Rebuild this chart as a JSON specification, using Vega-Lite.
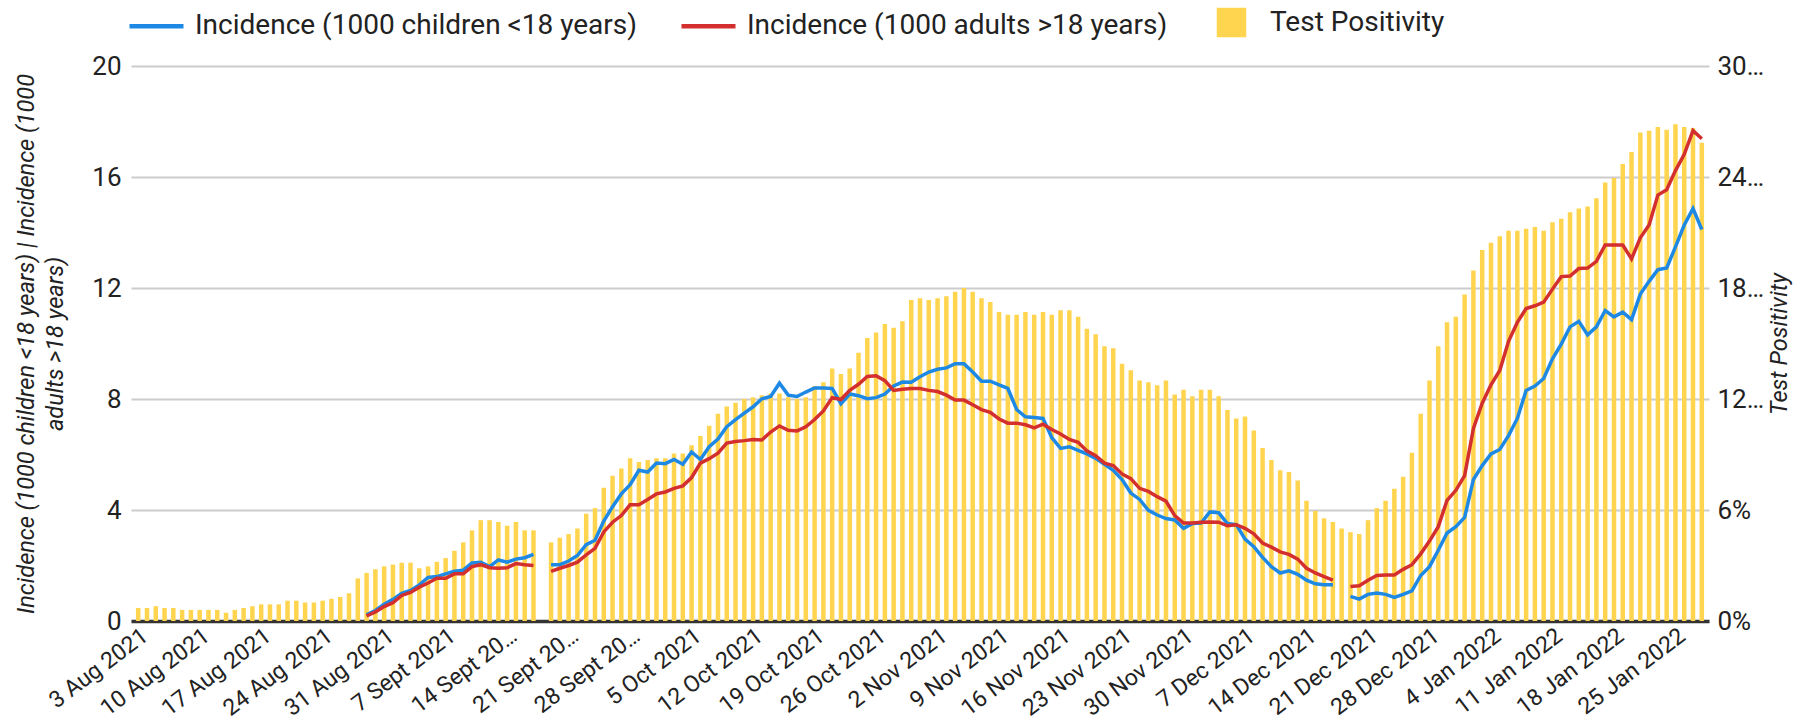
{
  "$schema": "https://vega.github.io/schema/vega-lite/v6.json",
  "width": 1578,
  "height": 555,
  "autosize": {"type": "none"},
  "padding": {"left": 131, "top": 66, "right": 104, "bottom": 99},
  "background": "white",
  "config": {
    "font": "Roboto",
    "view": {"stroke": null},
    "axis": {
      "labelFont": "Roboto", "labelColor": "#222222", "labelFontSize": 26,
      "titleFont": "Roboto", "titleFontSize": 23.5, "titleFontWeight": "normal", "titleFontStyle": "italic", "titleColor": "#222222",
      "ticks": false, "domain": false, "gridColor": "#cccccc", "gridWidth": 2
    }
  },
  "data": {"values": [
    {"date":"2021-08-03","p":0.7},{"date":"2021-08-04","p":0.7},{"date":"2021-08-05","p":0.8},{"date":"2021-08-06","p":0.7},
    {"date":"2021-08-07","p":0.7},{"date":"2021-08-08","p":0.6},{"date":"2021-08-09","p":0.6},{"date":"2021-08-10","p":0.6},
    {"date":"2021-08-11","p":0.6},{"date":"2021-08-12","p":0.6},{"date":"2021-08-13","p":0.45},{"date":"2021-08-14","p":0.6},
    {"date":"2021-08-15","p":0.7},{"date":"2021-08-16","p":0.8},{"date":"2021-08-17","p":0.9},{"date":"2021-08-18","p":0.9},
    {"date":"2021-08-19","p":0.9},{"date":"2021-08-20","p":1.1},{"date":"2021-08-21","p":1.1},{"date":"2021-08-22","p":1.0},
    {"date":"2021-08-23","p":1.0},{"date":"2021-08-24","p":1.1},{"date":"2021-08-25","p":1.2},{"date":"2021-08-26","p":1.3},
    {"date":"2021-08-27","p":1.5},{"date":"2021-08-28","p":2.3},
    {"date":"2021-08-29","p":2.6,"b":0.22,"r":0.18},{"date":"2021-08-30","p":2.8,"b":0.38,"r":0.33},
    {"date":"2021-08-31","p":2.95,"b":0.6,"r":0.52},{"date":"2021-09-01","p":3.05,"b":0.78,"r":0.66},
    {"date":"2021-09-02","p":3.15,"b":1.0,"r":0.92},{"date":"2021-09-03","p":3.15,"b":1.1,"r":1.03},
    {"date":"2021-09-04","p":2.85,"b":1.3,"r":1.22},{"date":"2021-09-05","p":2.95,"b":1.57,"r":1.37},
    {"date":"2021-09-06","p":3.2,"b":1.6,"r":1.54},{"date":"2021-09-07","p":3.4,"b":1.7,"r":1.54},
    {"date":"2021-09-08","p":3.8,"b":1.79,"r":1.7},{"date":"2021-09-09","p":4.25,"b":1.83,"r":1.7},
    {"date":"2021-09-10","p":4.9,"b":2.09,"r":1.96},{"date":"2021-09-11","p":5.45,"b":2.12,"r":2.03},
    {"date":"2021-09-12","p":5.45,"b":1.96,"r":1.92},{"date":"2021-09-13","p":5.35,"b":2.2,"r":1.9},
    {"date":"2021-09-14","p":5.15,"b":2.12,"r":1.92},{"date":"2021-09-15","p":5.35,"b":2.23,"r":2.07},
    {"date":"2021-09-16","p":4.9,"b":2.28,"r":2.03},{"date":"2021-09-17","p":4.9,"b":2.4,"r":2.0},
    {"date":"2021-09-18","p":null,"b":null,"r":null},
    {"date":"2021-09-19","p":4.25,"b":2.03,"r":1.79},{"date":"2021-09-20","p":4.5,"b":2.03,"r":1.9},
    {"date":"2021-09-21","p":4.7,"b":2.16,"r":2.0},{"date":"2021-09-22","p":5.0,"b":2.36,"r":2.12},
    {"date":"2021-09-23","p":5.8,"b":2.75,"r":2.38},{"date":"2021-09-24","p":6.1,"b":2.91,"r":2.62},
    {"date":"2021-09-25","p":7.2,"b":3.6,"r":3.21},{"date":"2021-09-26","p":7.85,"b":4.12,"r":3.56},
    {"date":"2021-09-27","p":8.25,"b":4.58,"r":3.8},{"date":"2021-09-28","p":8.8,"b":4.91,"r":4.19},
    {"date":"2021-09-29","p":8.6,"b":5.43,"r":4.19},{"date":"2021-09-30","p":8.7,"b":5.37,"r":4.38},
    {"date":"2021-10-01","p":8.8,"b":5.69,"r":4.58},{"date":"2021-10-02","p":8.8,"b":5.67,"r":4.65},
    {"date":"2021-10-03","p":9.05,"b":5.82,"r":4.78},{"date":"2021-10-04","p":9.05,"b":5.65,"r":4.87},
    {"date":"2021-10-05","p":9.5,"b":6.09,"r":5.17},{"date":"2021-10-06","p":10.0,"b":5.82,"r":5.69},
    {"date":"2021-10-07","p":10.55,"b":6.28,"r":5.85},{"date":"2021-10-08","p":11.2,"b":6.56,"r":6.05},
    {"date":"2021-10-09","p":11.6,"b":7.0,"r":6.41},{"date":"2021-10-10","p":11.8,"b":7.26,"r":6.47},
    {"date":"2021-10-11","p":12.0,"b":7.49,"r":6.5},{"date":"2021-10-12","p":12.1,"b":7.72,"r":6.54},
    {"date":"2021-10-13","p":12.2,"b":8.01,"r":6.52},{"date":"2021-10-14","p":12.3,"b":8.09,"r":6.81},
    {"date":"2021-10-15","p":12.3,"b":8.57,"r":7.03},{"date":"2021-10-16","p":12.1,"b":8.14,"r":6.87},
    {"date":"2021-10-17","p":12.0,"b":8.09,"r":6.85},{"date":"2021-10-18","p":12.1,"b":8.25,"r":7.0},
    {"date":"2021-10-19","p":12.7,"b":8.4,"r":7.26},{"date":"2021-10-20","p":12.9,"b":8.4,"r":7.57},
    {"date":"2021-10-21","p":13.65,"b":8.38,"r":8.05},{"date":"2021-10-22","p":13.35,"b":7.83,"r":7.98},
    {"date":"2021-10-23","p":13.65,"b":8.18,"r":8.31},{"date":"2021-10-24","p":14.5,"b":8.12,"r":8.53},
    {"date":"2021-10-25","p":15.3,"b":8.01,"r":8.81},{"date":"2021-10-26","p":15.6,"b":8.05,"r":8.84},
    {"date":"2021-10-27","p":16.05,"b":8.18,"r":8.66},{"date":"2021-10-28","p":15.85,"b":8.47,"r":8.31},
    {"date":"2021-10-29","p":16.2,"b":8.61,"r":8.35},{"date":"2021-10-30","p":17.35,"b":8.6,"r":8.38},
    {"date":"2021-10-31","p":17.45,"b":8.8,"r":8.38},{"date":"2021-11-01","p":17.35,"b":8.97,"r":8.31},
    {"date":"2021-11-02","p":17.45,"b":9.07,"r":8.27},{"date":"2021-11-03","p":17.55,"b":9.12,"r":8.14},
    {"date":"2021-11-04","p":17.8,"b":9.27,"r":7.96},{"date":"2021-11-05","p":18.0,"b":9.27,"r":7.96},
    {"date":"2021-11-06","p":17.8,"b":8.97,"r":7.79},{"date":"2021-11-07","p":17.45,"b":8.64,"r":7.62},
    {"date":"2021-11-08","p":17.25,"b":8.64,"r":7.52},{"date":"2021-11-09","p":16.7,"b":8.51,"r":7.28},
    {"date":"2021-11-10","p":16.55,"b":8.38,"r":7.13},{"date":"2021-11-11","p":16.55,"b":7.62,"r":7.13},
    {"date":"2021-11-12","p":16.7,"b":7.36,"r":7.07},{"date":"2021-11-13","p":16.55,"b":7.33,"r":6.96},
    {"date":"2021-11-14","p":16.7,"b":7.3,"r":7.09},{"date":"2021-11-15","p":16.55,"b":6.61,"r":6.9},
    {"date":"2021-11-16","p":16.8,"b":6.22,"r":6.74},{"date":"2021-11-17","p":16.8,"b":6.28,"r":6.54},
    {"date":"2021-11-18","p":16.45,"b":6.15,"r":6.44},{"date":"2021-11-19","p":15.8,"b":6.02,"r":6.13},
    {"date":"2021-11-20","p":15.5,"b":5.86,"r":5.96},{"date":"2021-11-21","p":14.85,"b":5.65,"r":5.69},
    {"date":"2021-11-22","p":14.75,"b":5.43,"r":5.6},{"date":"2021-11-23","p":13.9,"b":5.1,"r":5.3},
    {"date":"2021-11-24","p":13.55,"b":4.61,"r":5.13},{"date":"2021-11-25","p":13.0,"b":4.38,"r":4.78},
    {"date":"2021-11-26","p":12.9,"b":3.99,"r":4.67},{"date":"2021-11-27","p":12.75,"b":3.82,"r":4.48},
    {"date":"2021-11-28","p":13.0,"b":3.69,"r":4.32},{"date":"2021-11-29","p":12.25,"b":3.64,"r":3.8},
    {"date":"2021-11-30","p":12.5,"b":3.34,"r":3.53},{"date":"2021-12-01","p":12.15,"b":3.51,"r":3.53},
    {"date":"2021-12-02","p":12.5,"b":3.53,"r":3.56},{"date":"2021-12-03","p":12.5,"b":3.93,"r":3.57},
    {"date":"2021-12-04","p":12.15,"b":3.9,"r":3.56},{"date":"2021-12-05","p":11.4,"b":3.51,"r":3.43},
    {"date":"2021-12-06","p":10.95,"b":3.47,"r":3.47},{"date":"2021-12-07","p":11.05,"b":2.95,"r":3.34},
    {"date":"2021-12-08","p":10.3,"b":2.68,"r":3.14},{"date":"2021-12-09","p":9.35,"b":2.29,"r":2.81},
    {"date":"2021-12-10","p":8.7,"b":1.96,"r":2.66},{"date":"2021-12-11","p":8.15,"b":1.73,"r":2.49},
    {"date":"2021-12-12","p":8.05,"b":1.81,"r":2.4},{"date":"2021-12-13","p":7.6,"b":1.68,"r":2.23},
    {"date":"2021-12-14","p":6.5,"b":1.47,"r":1.9},{"date":"2021-12-15","p":5.95,"b":1.34,"r":1.73},
    {"date":"2021-12-16","p":5.55,"b":1.31,"r":1.6},{"date":"2021-12-17","p":5.35,"b":1.31,"r":1.47},
    {"date":"2021-12-18","p":5.0,"b":null,"r":null},
    {"date":"2021-12-19","p":4.8,"b":0.89,"r":1.24},{"date":"2021-12-20","p":4.7,"b":0.79,"r":1.27},
    {"date":"2021-12-21","p":5.45,"b":0.96,"r":1.47},{"date":"2021-12-22","p":6.1,"b":1.01,"r":1.64},
    {"date":"2021-12-23","p":6.5,"b":0.96,"r":1.66},{"date":"2021-12-24","p":7.15,"b":0.85,"r":1.66},
    {"date":"2021-12-25","p":7.8,"b":0.96,"r":1.86},{"date":"2021-12-26","p":9.1,"b":1.09,"r":2.03},
    {"date":"2021-12-27","p":11.2,"b":1.64,"r":2.42},{"date":"2021-12-28","p":13.0,"b":1.96,"r":2.88},
    {"date":"2021-12-29","p":14.85,"b":2.55,"r":3.4},{"date":"2021-12-30","p":16.15,"b":3.17,"r":4.35},
    {"date":"2021-12-31","p":16.45,"b":3.4,"r":4.71},{"date":"2022-01-01","p":17.65,"b":3.73,"r":5.24},
    {"date":"2022-01-02","p":18.95,"b":5.1,"r":6.94},{"date":"2022-01-03","p":20.05,"b":5.6,"r":7.85},
    {"date":"2022-01-04","p":20.45,"b":6.02,"r":8.51},{"date":"2022-01-05","p":20.8,"b":6.18,"r":9.03},
    {"date":"2022-01-06","p":21.1,"b":6.68,"r":10.08},{"date":"2022-01-07","p":21.1,"b":7.3,"r":10.76},
    {"date":"2022-01-08","p":21.2,"b":8.31,"r":11.26},{"date":"2022-01-09","p":21.3,"b":8.47,"r":11.36},
    {"date":"2022-01-10","p":21.1,"b":8.74,"r":11.49},{"date":"2022-01-11","p":21.55,"b":9.45,"r":11.96},
    {"date":"2022-01-12","p":21.75,"b":9.98,"r":12.41},{"date":"2022-01-13","p":22.1,"b":10.6,"r":12.43},
    {"date":"2022-01-14","p":22.3,"b":10.8,"r":12.7},{"date":"2022-01-15","p":22.4,"b":10.31,"r":12.72},
    {"date":"2022-01-16","p":22.85,"b":10.6,"r":12.96},{"date":"2022-01-17","p":23.7,"b":11.19,"r":13.55},
    {"date":"2022-01-18","p":23.95,"b":10.96,"r":13.55},{"date":"2022-01-19","p":24.7,"b":11.13,"r":13.55},
    {"date":"2022-01-20","p":25.35,"b":10.86,"r":13.05},{"date":"2022-01-21","p":26.4,"b":11.78,"r":13.81},
    {"date":"2022-01-22","p":26.5,"b":12.24,"r":14.27},{"date":"2022-01-23","p":26.7,"b":12.66,"r":15.35},
    {"date":"2022-01-24","p":26.55,"b":12.72,"r":15.54},{"date":"2022-01-25","p":26.85,"b":13.48,"r":16.23},
    {"date":"2022-01-26","p":26.7,"b":14.27,"r":16.82},{"date":"2022-01-27","p":26.65,"b":14.86,"r":17.67},
    {"date":"2022-01-28","p":25.85,"b":14.11,"r":17.38}
  ]},
  "encoding": {
    "x": {
      "field": "date", "type": "temporal",
      "scale": {"type": "utc", "domain": [{"year": 2021, "month": 8, "date": 2, "hours": 18, "utc": true}, {"year": 2022, "month": 1, "date": 28, "hours": 6, "utc": true}]},
      "axis": {
        "title": null, "domain": true, "domainColor": "#333333", "domainWidth": 3.5, "grid": false,
        "labelAngle": -37, "labelAlign": "right", "labelBaseline": "top", "labelPadding": 3, "labelFontSize": 23,
        "labelOverlap": false, "labelBound": false, "labelFlush": false, "labelLimit": 400,
        "values": [
          {"year": 2021, "month": 8, "date": 3, "utc": true}, {"year": 2021, "month": 8, "date": 10, "utc": true},
          {"year": 2021, "month": 8, "date": 17, "utc": true}, {"year": 2021, "month": 8, "date": 24, "utc": true},
          {"year": 2021, "month": 8, "date": 31, "utc": true}, {"year": 2021, "month": 9, "date": 7, "utc": true},
          {"year": 2021, "month": 9, "date": 14, "utc": true}, {"year": 2021, "month": 9, "date": 21, "utc": true},
          {"year": 2021, "month": 9, "date": 28, "utc": true}, {"year": 2021, "month": 10, "date": 5, "utc": true},
          {"year": 2021, "month": 10, "date": 12, "utc": true}, {"year": 2021, "month": 10, "date": 19, "utc": true},
          {"year": 2021, "month": 10, "date": 26, "utc": true}, {"year": 2021, "month": 11, "date": 2, "utc": true},
          {"year": 2021, "month": 11, "date": 9, "utc": true}, {"year": 2021, "month": 11, "date": 16, "utc": true},
          {"year": 2021, "month": 11, "date": 23, "utc": true}, {"year": 2021, "month": 11, "date": 30, "utc": true},
          {"year": 2021, "month": 12, "date": 7, "utc": true}, {"year": 2021, "month": 12, "date": 14, "utc": true},
          {"year": 2021, "month": 12, "date": 21, "utc": true}, {"year": 2021, "month": 12, "date": 28, "utc": true},
          {"year": 2022, "month": 1, "date": 4, "utc": true}, {"year": 2022, "month": 1, "date": 11, "utc": true},
          {"year": 2022, "month": 1, "date": 18, "utc": true}, {"year": 2022, "month": 1, "date": 25, "utc": true}
        ],
        "labelExpr": "length(replace(utcFormat(datum.value, '%-d %b %Y'), 'Sep ', 'Sept ')) > 11 ? slice(replace(utcFormat(datum.value, '%-d %b %Y'), 'Sep ', 'Sept '), 0, 10) + '…' : replace(utcFormat(datum.value, '%-d %b %Y'), 'Sep ', 'Sept ')"
      }
    }
  },
  "layer": [
    {
      "mark": {"type": "bar", "width": 4.5},
      "encoding": {
        "y": {
          "field": "p", "type": "quantitative",
          "scale": {"domain": [0, 30], "nice": false, "zero": true},
          "axis": {
            "orient": "right", "grid": false, "values": [0, 6, 12, 18, 24, 30],
            "labelExpr": "datum.value >= 10 ? datum.value + '…' : datum.value + '%'",
            "labelPadding": 8, "title": "Test Positivity", "titleAngle": -90, "titlePadding": 28
          }
        },
        "color": {
          "datum": "Test Positivity", "type": "nominal",
          "scale": {
            "domain": ["Incidence (1000 children <18 years)", "Incidence (1000 adults >18 years)", "Test Positivity"],
            "range": ["#1e88e5", "#d32f2f", "#ffd54f"]
          },
          "legend": {
            "orient": "none", "legendX": -4, "legendY": -73, "direction": "horizontal", "title": null,
            "labelFont": "Roboto", "labelFontSize": 28, "labelColor": "#222222", "labelLimit": 1000,
            "symbolType": "stroke", "symbolSize": 2916, "symbolStrokeWidth": 4.5,
            "columnPadding": 34, "labelOffset": 9,
            "encode": {
              "symbols": {
                "update": {
                  "shape": {"signal": "datum.value === 'Test Positivity' ? 'square' : 'stroke'"},
                  "fill": {"signal": "datum.value === 'Test Positivity' ? '#ffd54f' : 'transparent'"},
                  "stroke": {"signal": "datum.value === 'Test Positivity' ? 'transparent' : (datum.value === 'Incidence (1000 adults >18 years)' ? '#d32f2f' : '#1e88e5')"},
                  "strokeWidth": {"value": 4.5},
                  "size": {"signal": "datum.value === 'Test Positivity' ? 625 : 2916"}
                }
              }
            }
          }
        }
      }
    },
    {
      "layer": [
        {
          "mark": {"type": "line", "strokeWidth": 3.5, "invalid": "break-paths-filter-domains"},
          "encoding": {
            "y": {
              "field": "b", "type": "quantitative",
              "scale": {"domain": [0, 20], "nice": false, "zero": true},
              "axis": {
                "orient": "left", "grid": true, "values": [0, 4, 8, 12, 16, 20], "labelPadding": 10,
                "title": ["Incidence (1000 children <18 years) | Incidence (1000", "adults >18 years)"],
                "titleLineHeight": 29, "titlePadding": 24, "titleLimit": 2000
              }
            },
            "color": {"datum": "Incidence (1000 children <18 years)", "type": "nominal"}
          }
        },
        {
          "mark": {"type": "line", "strokeWidth": 3.5, "invalid": "break-paths-filter-domains"},
          "encoding": {
            "y": {
              "field": "r", "type": "quantitative",
              "axis": {
                "orient": "left", "grid": true, "values": [0, 4, 8, 12, 16, 20], "labelPadding": 10,
                "title": ["Incidence (1000 children <18 years) | Incidence (1000", "adults >18 years)"],
                "titleLineHeight": 29, "titlePadding": 24, "titleLimit": 2000
              }
            },
            "color": {"datum": "Incidence (1000 adults >18 years)", "type": "nominal"}
          }
        },
        {
          "data": {"values": [{}]},
          "mark": {"type": "text", "align": "left", "baseline": "alphabetic", "dx": 2, "font": "Roboto", "fontSize": 29, "fontStyle": "italic", "color": "#9e9e9e"},
          "encoding": {
            "x": {"datum": {"year": 2021, "month": 8, "date": 3, "utc": true}, "type": "temporal"},
            "y": {"datum": 18.7, "type": "quantitative"},
            "text": {"value": "Seven Day Moving Averages"}
          }
        }
      ]
    }
  ],
  "resolve": {"scale": {"y": "independent"}}
}
